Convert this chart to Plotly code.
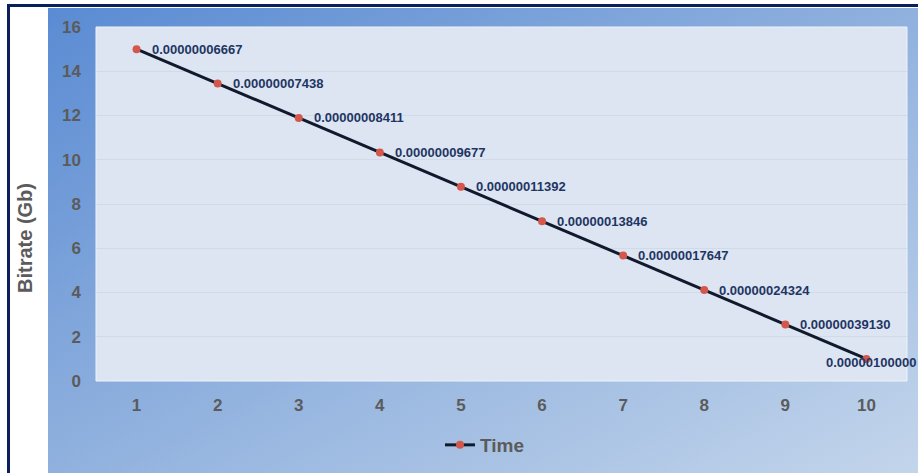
import base64
import plotly.graph_objects as go

# ---- data ----
time_points = [1, 2, 3, 4, 5, 6, 7, 8, 9, 10]
bitrate_gb = [15.0, 13.444, 11.889, 10.333, 8.778, 7.222, 5.667, 4.111, 2.556, 1.0]
point_labels = ["0.00000006667", "0.00000007438", "0.00000008411", "0.00000009677",
                "0.00000011392", "0.00000013846", "0.00000017647", "0.00000024324",
                "0.00000039130", "0.00000100000"]
y_ticks = [0, 2, 4, 6, 8, 10, 12, 14, 16]
series_name = "Time"
y_title = "Bitrate (Gb)"

W, H = 918, 473
L, R, T, B = 96, 11, 27, 92
PW, PH = W - L - R, H - T - B


def px_x(p):
    return (p - L) / PW


def px_y(p):
    return (H - B - p) / PH


FONT = "Liberation Sans"
GRAY = "#5b5b5b"
NAVY_TXT = "#1f3563"

fig = go.Figure()
fig.add_trace(go.Scatter(
    x=time_points, y=bitrate_gb, name=series_name, mode="lines+markers",
    line=dict(color="#111a2c", width=3),
    marker=dict(color="#d5574b", size=8),
    cliponaxis=False,
))

annotations = []
last = len(time_points) - 1
for i, (xv, yv, lab) in enumerate(zip(time_points, bitrate_gb, point_labels)):
    annotations.append(dict(
        x=xv, y=yv, xref="x", yref="y", text=lab, showarrow=False,
        xanchor="left", yanchor="middle",
        xshift=-42 if i == last else 13, yshift=-4 if i == last else 0,
        font=dict(family=FONT, size=13, color=NAVY_TXT, weight="bold"),
    ))
annotations.append(dict(
    x=px_x(25), y=px_y(238), xref="paper", yref="paper", text=y_title,
    textangle=-90, showarrow=False, xanchor="center", yanchor="middle",
    font=dict(family=FONT, size=20, color=GRAY, weight="bold"),
))

svg = ('<svg xmlns="http://www.w3.org/2000/svg" width="870" height="465">'
       '<defs><linearGradient id="g" x1="0" y1="0" x2="1" y2="1">'
       '<stop offset="0" stop-color="#5a8bd3"/>'
       '<stop offset="0.5" stop-color="#90b1de"/>'
       '<stop offset="1" stop-color="#c3d5eb"/>'
       '</linearGradient></defs>'
       '<rect width="870" height="465" fill="url(#g)"/></svg>')
src = "data:image/svg+xml;base64," + base64.b64encode(svg.encode()).decode()

shapes = [
    dict(type="rect", xref="paper", yref="paper", x0=0, x1=1, y0=0, y1=1,
         fillcolor="#dce5f1", line=dict(color="#eef3f9", width=1), layer="below"),
    dict(type="rect", xref="paper", yref="paper", x0=px_x(7), x1=px_x(W), y0=px_y(7), y1=px_y(4),
         fillcolor="#0b1f5a", line=dict(width=0), layer="below"),
    dict(type="rect", xref="paper", yref="paper", x0=px_x(7), x1=px_x(10), y0=px_y(H), y1=px_y(4),
         fillcolor="#0b1f5a", line=dict(width=0), layer="below"),
]

fig.update_layout(
    width=W, height=H,
    margin=dict(l=L, r=R, t=T, b=B, autoexpand=False),
    paper_bgcolor="white", plot_bgcolor="#dce5f1",
    images=[dict(source=src, xref="paper", yref="paper", x=px_x(48), y=px_y(8),
                 sizex=(W - 48) / PW, sizey=(H - 8) / PH, xanchor="left", yanchor="top",
                 sizing="stretch", layer="below")],
    shapes=shapes,
    annotations=annotations,
    showlegend=True,
    legend=dict(orientation="h", x=px_x(440), y=px_y(445), xanchor="left", yanchor="middle",
                bgcolor="rgba(0,0,0,0)",
                font=dict(family=FONT, size=19, color=GRAY, weight="bold")),
    xaxis=dict(range=[0.5, 10.5], tickvals=time_points, showgrid=False, zeroline=False,
               showline=False, ticks="", ticklabelstandoff=12,
               tickfont=dict(family=FONT, size=17, color=GRAY, weight="bold")),
    yaxis=dict(range=[0, 16], tickvals=y_ticks, showgrid=True, gridcolor="#d1dae7",
               gridwidth=1, zeroline=False, showline=False, ticks="", ticklabelstandoff=14,
               tickfont=dict(family=FONT, size=17, color=GRAY, weight="bold")),
)

fig.write_html("out.html", config={"displayModeBar": False},
               post_script="document.body.style.margin='0';document.body.style.overflow='hidden';")
